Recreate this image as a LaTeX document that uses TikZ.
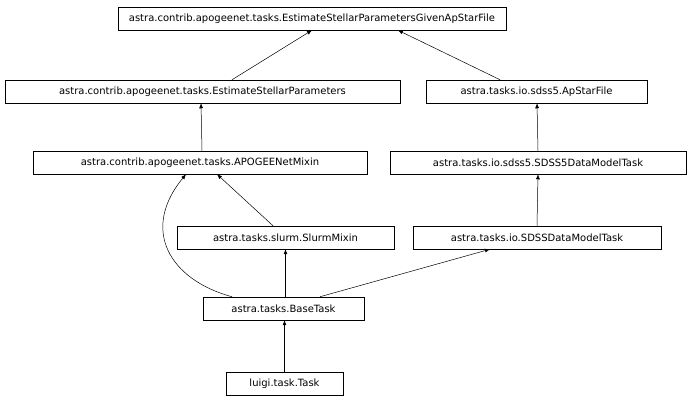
\documentclass[tikz,border=0pt]{standalone}
\usepackage{fontspec}
\setmainfont{DejaVu Sans}
\usetikzlibrary{arrows.meta}
\begin{document}
\begin{tikzpicture}[x=1pt,y=-1pt,
 box/.style={draw,line width=0.5pt,inner sep=0pt,minimum height=23pt,font=\fontsize{10}{12}\selectfont},
 inh/.style={-{Latex[length=5pt,width=4pt]},line width=0.5pt}]
\useasboundingbox (0,0) rectangle (691,403);
\node[box,minimum width=388pt] (top) at (312,18.5) {astra.contrib.apogeenet.tasks.EstimateStellarParametersGivenApStarFile};
\node[box,minimum width=395pt] (esp) at (202.5,91.5) {astra.contrib.apogeenet.tasks.EstimateStellarParameters};
\node[box,minimum width=221pt] (ap) at (536.5,91.5) {astra.tasks.io.sdss5.ApStarFile};
\node[box,minimum width=334pt] (mix) at (200,162.5) {astra.contrib.apogeenet.tasks.APOGEENetMixin};
\node[box,minimum width=296pt] (s5) at (538,162.5) {astra.tasks.io.sdss5.SDSS5DataModelTask};
\node[box,minimum width=217pt] (slurm) at (285.5,237.5) {astra.tasks.slurm.SlurmMixin};
\node[box,minimum width=248pt] (sdm) at (537,237.5) {astra.tasks.io.SDSSDataModelTask};
\node[box,minimum width=161pt] (base) at (283.5,308.5) {astra.tasks.BaseTask};
\node[box,minimum width=117pt] (luigi) at (284.5,383.5) {luigi.task.Task};
\draw[inh] (esp.north -| 232,0) -- (top.south -| 312,0);
\draw[inh] (ap.north -| 500,0) -- (top.south -| 398,0);
\draw[inh] (mix.north -| 202,0) -- (esp.south -| 201,0);
\draw[inh] (s5.north -| 538,0) -- (ap.south -| 537,0);
\draw[inh] (sdm.north) -- (s5.south);
\draw[inh] (slurm.north -| 273,0) -- (mix.south -| 217,0);
\draw[inh] (base.north -| 285.5,0) -- (slurm.south);
\draw[inh] (base.north -| 320,0) -- (sdm.south -| 490,0);
\draw[inh] (base.north -| 232,0) .. controls (170,280) and (140,230) .. (mix.south -| 186,0);
\draw[inh] (luigi.north) -- (base.south -| 284.5,0);
\end{tikzpicture}
\end{document}
